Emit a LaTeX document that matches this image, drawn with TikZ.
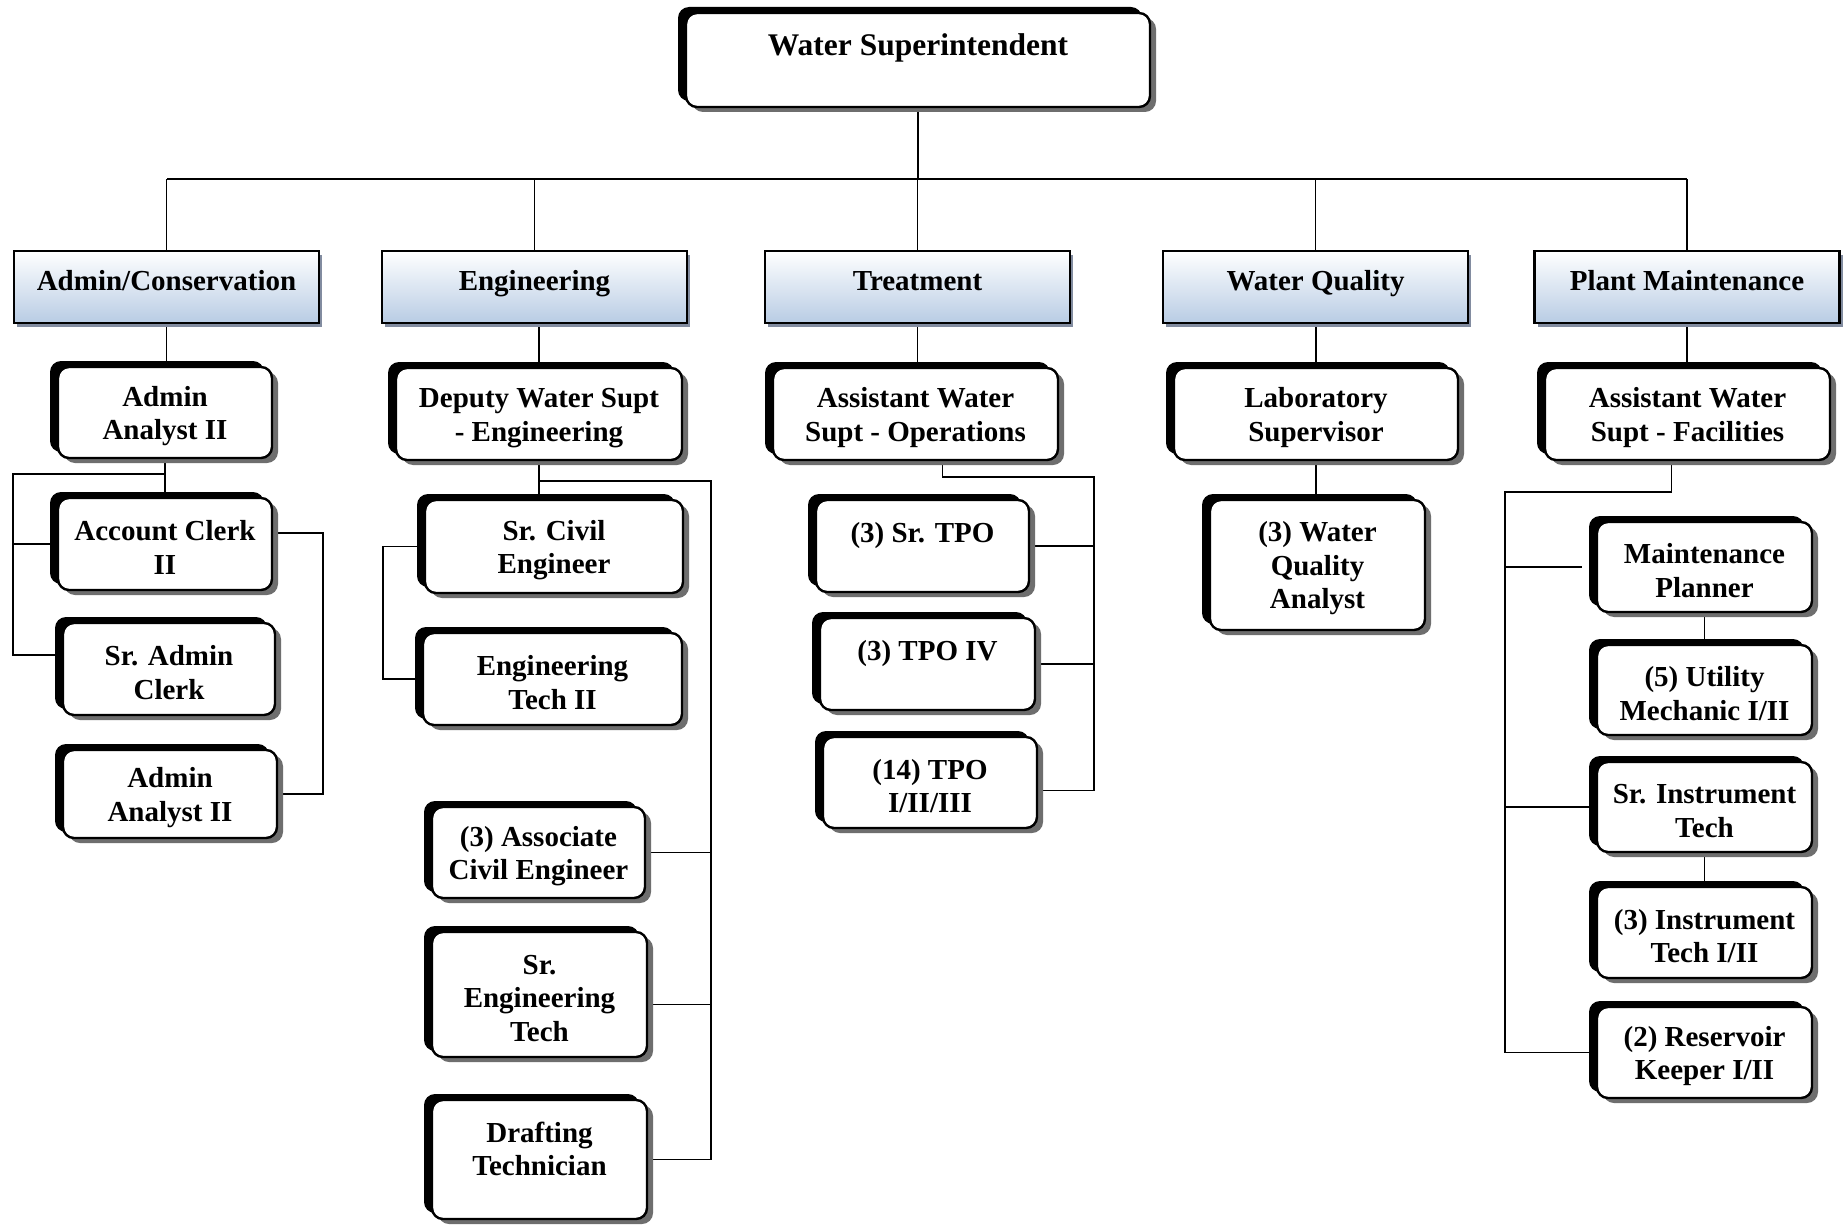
\documentclass[tikz,border=0pt]{standalone}
\usepackage{fontspec}
\setmainfont{Liberation Serif}
\usetikzlibrary{shadows,backgrounds}
\definecolor{hdrblue}{RGB}{184,204,228}
\definecolor{hdrshadow}{RGB}{130,140,160}
\definecolor{shadgray}{RGB}{110,110,110}
\newcommand\tallstrut{\rule{0pt}{27pt}}
\begin{document}
\begin{tikzpicture}[x=1pt,y=-1pt,
  txt/.style={font=\bfseries\fontsize{29}{33.5}\selectfont},
  pbox/.style={txt, rounded corners=11pt, draw=black, line width=2.4pt, fill=white,
    inner sep=0pt, align=center,
    general shadow={shadow xshift=6pt, shadow yshift=-5pt, fill=shadgray},
    general shadow={shadow xshift=-8pt, shadow yshift=6pt, fill=black}},
  hdr/.style={txt, draw=black, line width=2.2pt, top color=white, bottom color=hdrblue,
    inner sep=0pt, align=center, minimum width=305pt, minimum height=72pt,
    text height=17pt, text depth=10.5pt,
    general shadow={shadow xshift=3pt, shadow yshift=-4pt, fill=hdrshadow}},
  conn/.style={line width=1.7pt, draw=black}]
\useasboundingbox (0,0) rectangle (1845,1228);

% top
\node[pbox, minimum width=464pt, minimum height=94pt,
  font=\bfseries\fontsize{31.5}{36}\selectfont] (top) at (918,60) {\tallstrut Water Superintendent\\\mbox{}};

% headers
\node[hdr] (h1) at (166.5,287) {Admin/Conservation};
\node[hdr] (h2) at (534.5,287) {Engineering};
\node[hdr] (h3) at (917.5,287) {Treatment};
\node[hdr] (h4) at (1315.5,287) {Water Quality};
\node[hdr] (h5) at (1687,287) {Plant Maintenance};

% second level
\node[pbox, minimum width=214pt, minimum height=91pt] (aa1) at (165,412.5) {\tallstrut Admin\\Analyst II};
\node[pbox, minimum width=286pt, minimum height=92pt] (dep) at (539,414) {\tallstrut Deputy Water Supt\\- Engineering};
\node[pbox, minimum width=285pt, minimum height=92pt] (awo) at (915.5,414) {\tallstrut Assistant Water\\Supt - Operations};
\node[pbox, minimum width=284pt, minimum height=92pt] (lab) at (1316,414) {\tallstrut Laboratory\\Supervisor};
\node[pbox, minimum width=285pt, minimum height=92pt] (awf) at (1687.5,414) {\tallstrut Assistant Water\\Supt - Facilities};

% admin column
\node[pbox, minimum width=214pt, minimum height=92pt] (acc) at (165,544) {\tallstrut Account Clerk\\II};
\node[pbox, minimum width=212pt, minimum height=92pt] (sac) at (169,669) {\tallstrut Sr. Admin\\Clerk};
\node[pbox, minimum width=214pt, minimum height=88pt] (aa2) at (170,794) {\tallstrut Admin\\Analyst II};

% engineering column
\node[pbox, minimum width=258pt, minimum height=93pt] (sce) at (554,546.5) {\tallstrut Sr. Civil\\Engineer};
\node[pbox, minimum width=259pt, minimum height=92pt] (et2) at (552.5,679) {\tallstrut Engineering\\Tech II};
\node[pbox, minimum width=213pt, minimum height=91pt] (ace) at (538.5,852.5) {\tallstrut (3) Associate\\Civil Engineer};
\node[pbox, minimum width=215pt, minimum height=125pt] (set) at (539.5,994.5) {\tallstrut Sr.\\Engineering\\Tech};
\node[pbox, minimum width=215pt, minimum height=119pt] (dt) at (539.5,1159.5) {\rule{0pt}{32pt}Drafting\\Technician\\\mbox{}};

% treatment column
\node[pbox, minimum width=213pt, minimum height=92pt] (stpo) at (922.5,546) {\tallstrut (3) Sr. TPO\\\mbox{}};
\node[pbox, minimum width=215pt, minimum height=92pt] (tpo4) at (927.5,664) {\tallstrut (3) TPO IV\\\mbox{}};
\node[pbox, minimum width=214pt, minimum height=91pt] (tpo14) at (930,782.5) {\tallstrut (14) TPO\\I/II/III};

% water quality column
\node[pbox, minimum width=215pt, minimum height=130pt] (wqa) at (1317.5,565) {\tallstrut (3) Water\\Quality\\Analyst};

% plant maintenance column
\node[pbox, minimum width=215pt, minimum height=90pt] (mp) at (1704.5,567) {\tallstrut Maintenance\\Planner};
\node[pbox, minimum width=215pt, minimum height=90pt] (um) at (1704.5,690) {\tallstrut (5) Utility\\Mechanic I/II};
\node[pbox, minimum width=215pt, minimum height=90pt] (sit) at (1704.5,807) {\tallstrut Sr. Instrument\\Tech};
\node[pbox, minimum width=215pt, minimum height=91pt] (it) at (1704.5,932.5) {\tallstrut (3) Instrument\\Tech I/II};
\node[pbox, minimum width=215pt, minimum height=91pt] (rk) at (1704.5,1052.5) {\tallstrut (2) Reservoir\\Keeper I/II};

\coordinate (busL) at (167,179);
\coordinate (busR) at (1687,179);
\coordinate (aj) at (13,474);
\coordinate (ar) at (323,0);
\coordinate (ej) at (711,481);
\coordinate (el) at (383,0);
\coordinate (tj) at (1094,477);
\coordinate (pj) at (1505,492);
\coordinate (sacw) at ([yshift=14pt]sac.west);
\coordinate (acce) at ([yshift=11pt]acc.east);
\coordinate (sete) at ([yshift=-10pt]set.east);
\coordinate (tpoe) at ([yshift=-8pt]tpo14.east);
\coordinate (awos) at ([xshift=27pt]awo.south);
\coordinate (awfs) at ([xshift=-16pt]awf.south);
\coordinate (mpw) at ([xshift=-14pt]mp.west);

\begin{scope}[on background layer]
\fill[white] (0,0) rectangle (1845,1228);
% top bus
\draw[conn, line width=2pt] (busL) -- (busR);
\draw[conn, line width=2pt] (top.south) -- (top.south |- busL);
\draw[conn] (h1.north) -- (h1.north |- busL);
\draw[conn] (h2.north) -- (h2.north |- busL);
\draw[conn] (h3.north) -- (h3.north |- busL);
\draw[conn] (h4.north) -- (h4.north |- busL);
\draw[conn] (h5.north) -- (h5.north |- busL);
% header to second level
\draw[conn] (h1.south) -- (h1.south |- aa1.north);
\draw[conn] (dep.north) -- (dep.north |- h2.south);
\draw[conn] (h3.south) -- (h3.south |- awo.north);
\draw[conn] (lab.north) -- (lab.north |- h4.south);
\draw[conn] (h5.south) -- (h5.south |- awf.north);
% admin
\draw[conn] (aa1.south) -- (aa1.south |- acc.north);
\draw[conn] (aa1.south |- aj) -- (aj) -- (aj |- sacw) -- (sacw);
\draw[conn] (aj |- acc.west) -- (acc.west);
\draw[conn] (acce) -- (acce -| ar) -- (ar |- aa2.east) -- (aa2.east);
% engineering
\draw[conn] (dep.south) -- (dep.south |- sce.north);
\draw[conn] (dep.south |- ej) -- (ej) -- (ej |- dt.east) -- (dt.east);
\draw[conn] (ace.east) -- (ace.east -| ej);
\draw[conn] (sete) -- (sete -| ej);
\draw[conn] (sce.west) -- (sce.west -| el) -- (el |- et2.west) -- (et2.west);
% treatment
\draw[conn] (awos) -- (awos |- tj) -- (tj) -- (tj |- tpoe) -- (tpoe);
\draw[conn] (stpo.east) -- (stpo.east -| tj);
\draw[conn] (tpo4.east) -- (tpo4.east -| tj);
% water quality
\draw[conn] (lab.south) -- (lab.south |- wqa.north);
% plant maintenance
\draw[conn] (awfs) -- (awfs |- pj) -- (pj) -- (pj |- rk.west) -- (rk.west);
\draw[conn] (mp.west -| pj) -- (mpw);
\draw[conn] (sit.west -| pj) -- (sit.west);
\draw[conn] (mp.south) -- (um.north);
\draw[conn] (sit.south) -- (it.north);
\end{scope}
\end{tikzpicture}
\end{document}
